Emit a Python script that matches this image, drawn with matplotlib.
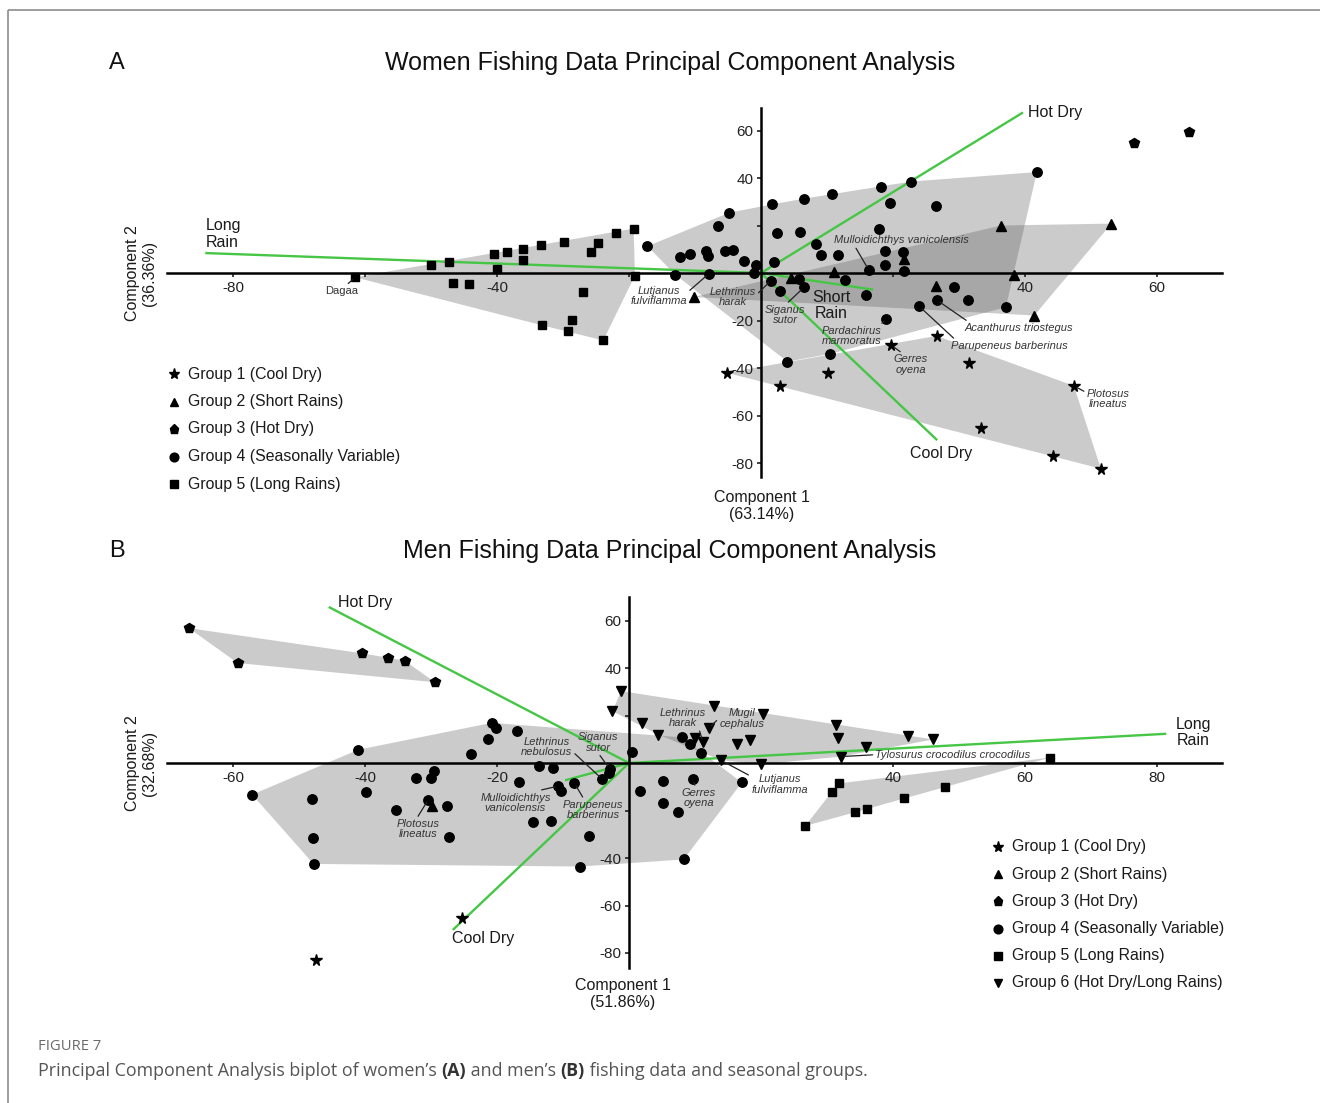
import matplotlib
matplotlib.use("Agg")
import matplotlib.pyplot as plt

plt.rcParams['font.family'] = ['Liberation Sans', 'DejaVu Sans']

W, H = 1320, 1103

# ---------------- Panel A: women ----------------
a_g1 = [(-5.2, -42.0), (2.9, -47.6), (10.2, -42.3), (19.7, -30.3), (26.6, -26.5),
        (31.5, -37.7), (33.3, -65.1), (44.3, -77.2), (47.4, -47.5), (51.5, -82.4)]
a_g2 = [(-10.2, -10.1), (4.6, -2.1), (11.0, 0.3), (21.6, 5.9), (36.4, 20.0),
        (53.1, 20.8), (38.3, -0.7), (26.5, -5.4), (41.4, -17.9)]
a_g3 = [(56.5, 54.9), (64.8, 59.2)]
a_g4 = [(-17.2, 11.3), (-12.2, 6.6), (-10.7, 8.0), (-8.4, 9.3), (-8.0, 7.3), (-5.5, 9.3),
        (-4.3, 9.6), (-6.5, 19.7), (-4.8, 25.4), (-2.6, 4.9), (-0.7, 3.5), (-1.0, 0.0),
        (-13.0, -0.7), (-7.9, -0.3), (1.7, 28.9), (1.9, 4.5), (2.4, 16.9), (1.5, -3.2),
        (2.9, -7.7), (5.8, -2.4), (5.9, 17.3), (6.5, -6.1), (6.5, 31.3), (8.3, 12.3),
        (9.1, 7.5), (10.7, 33.1), (11.7, 7.5), (12.8, -3.1), (15.9, -9.2), (16.3, 1.4),
        (17.9, 18.6), (18.2, 36.3), (18.8, 9.4), (18.8, 3.5), (19.5, 29.3), (21.5, 9.0),
        (21.7, 0.7), (22.7, 38.5), (19.0, -19.3), (24.0, -14.1), (26.7, -11.5), (26.5, 28.2),
        (29.3, -6.1), (31.4, -11.3), (37.1, -14.4), (41.8, 42.5), (4.0, -37.3), (10.4, -34.1)]
a_g5 = [(-61.5, -1.8), (-50.0, 3.5), (-47.3, 4.8), (-46.7, -4.2), (-44.3, -4.5), (-40.5, 8.0),
        (-40.0, 1.7), (-38.5, 9.0), (-36.1, 10.2), (-36.1, 5.6), (-33.4, 11.8), (-29.9, 13.1),
        (-25.8, 9.0), (-24.7, 12.5), (-22.0, 17.0), (-19.3, 18.7), (-19.1, -1.1), (-27.0, -8.0),
        (-33.2, -22.0), (-28.7, -19.6), (-29.3, -24.3), (-23.9, -28.4)]

a_vec_names = ['Long\nRain', 'Hot Dry', 'Cool Dry', 'Short\nRain']
a_vec_end = [(-84.2, 8.4), (39.7, 67.6), (26.7, -70.4), (17.0, -7.0)]
a_vec_lab = [(-84.2, 16.4, 'left'), (40.5, 67.5, 'left'), (27.3, -76.0, 'center'), (10.7, -13.6, 'center')]

a_sp_names = ['Dagaa', 'Lutjanus\nfulviflamma', 'Lethrinus\nharak', 'Siganus\nsutor',
              'Mulloidichthys vanicolensis', 'Pardachirus\nmarmoratus', 'Gerres\noyena',
              'Acanthurus triostegus', 'Parupeneus barberinus', 'Plotosus\nlineatus']
a_sp_pt = [(-61.5, -1.8), (-7.9, -0.3), (1.5, -3.2), (6.5, -6.1), (16.3, 1.4), (19.0, -19.3),
           (19.7, -30.3), (26.7, -11.5), (24.0, -14.1), (47.4, -47.5)]
a_sp_txt = [(-63.5, -7.7), (-15.5, -9.6), (-4.3, -10.1), (3.7, -17.7), (21.3, 13.7), (13.8, -26.6),
            (22.7, -38.6), (39.1, -23.2), (37.6, -30.7), (52.6, -53.0)]
a_sp_rel = [(0.6, 1), (1, 0.65), (0.9, 0.35), (0.5, 1), (0.15, 0), (0.95, 1), (0.3, 1),
            (0.05, 1), (0.05, 1), (0, 0.8)]

# ---------------- Panel B: men ----------------
b_g1 = [(-25.3, -65.3), (-47.4, -82.9)]
b_g2 = [(-29.8, -18.3)]
b_g3 = [(-66.7, 56.8), (-59.3, 42.1), (-40.5, 46.2), (-36.5, 44.3), (-34.0, 43.1), (-29.4, 34.0)]
b_g4 = [(-20.8, 16.9), (-20.1, 14.7), (-21.3, 10.3), (-16.9, 13.6), (-23.9, 3.9), (-41.0, 5.6),
        (-13.7, -1.3), (-11.5, -2.1), (-16.7, -8.0), (-29.5, -3.5), (-30.0, -6.3), (-32.2, -6.3),
        (-39.8, -12.2), (-57.1, -13.3), (-48.1, -15.2), (-30.4, -15.4), (-35.3, -19.6),
        (-27.6, -18.0), (-47.9, -31.5), (-27.3, -31.3), (-47.8, -42.5), (-14.6, -24.8),
        (-11.8, -24.5), (-10.7, -9.7), (-10.3, -11.7), (-8.3, -8.3), (-6.0, -30.8), (-7.4, -43.6),
        (-4.1, -6.7), (-2.9, -2.6), (-3.0, -4.2), (0.5, 4.6), (1.6, -11.7), (8.0, 10.8),
        (9.3, 7.9), (10.9, 4.2), (5.1, -7.7), (5.2, -17.0), (7.5, -20.6), (9.7, -6.8),
        (17.1, -8.2), (8.3, -40.6)]
b_g5 = [(63.8, 2.3), (31.8, -8.6), (30.7, -12.3), (47.9, -10.0), (41.7, -14.8), (36.0, -19.4),
        (34.3, -20.7), (26.7, -26.5)]
b_g6 = [(-1.2, 30.3), (-2.5, 21.8), (2.0, 16.8), (4.4, 12.0), (12.9, 24.0), (20.3, 20.7),
        (12.1, 14.7), (10.0, 10.5), (11.2, 9.0), (16.4, 8.0), (18.4, 9.5), (13.9, 1.2),
        (20.0, -0.6), (31.4, 16.1), (31.7, 10.6), (32.1, 2.7), (35.9, 6.6), (42.2, 11.5), (46.1, 9.9)]

b_vec_names = ['Hot Dry', 'Cool Dry', 'Long\nRain', '']
b_vec_end = [(-45.5, 65.7), (-26.7, -70.3), (81.4, 12.3), (-9.7, -7.3)]
b_vec_lab = [(-44.1, 67.7, 'left'), (-22.1, -74.1, 'center'), (85.5, 13.0, 'center'), (0, 0, 'center')]

b_sp_names = ['Lethrinus\nnebulosus', 'Siganus\nsutor', 'Mulloidichthys\nvanicolensis',
              'Parupeneus\nbarberinus', 'Plotosus\nlineatus', 'Lethrinus\nharak', 'Mugil\ncephalus',
              'Gerres\noyena', 'Lutjanus\nfulviflamma', 'Tylosurus crocodilus crocodilus']
b_sp_pt = [(-4.1, -6.7), (-2.9, -2.6), (-10.7, -9.7), (-8.3, -8.3), (-30.4, -15.4), (11.2, 9.0),
           (12.1, 14.7), (9.7, -6.8), (13.9, 1.2), (32.1, 2.7)]
b_sp_txt = [(-12.5, 6.7), (-4.7, 8.6), (-17.2, -16.8), (-5.4, -19.8), (-31.9, -27.9), (8.1, 18.9),
            (17.1, 18.7), (10.6, -14.8), (22.8, -9.1), (49.1, 3.5)]
b_sp_rel = [(1, 0.3), (0.5, 0), (0.7, 1), (0.35, 1), (0.45, 1), (0.85, 0), (0.1, 0.75),
            (0.4, 1), (0, 0.9), (0, 0.5)]

groups = ['Group 1 (Cool Dry)', 'Group 2 (Short Rains)', 'Group 3 (Hot Dry)',
          'Group 4 (Seasonally Variable)', 'Group 5 (Long Rains)', 'Group 6 (Hot Dry/Long Rains)']
markers = ['*', '^', 'p', 'o', 's', 'v']
msizes = [8.5, 6.8, 7.2, 6.8, 6.3, 6.8]

GREEN = '#45c645'
HULL = '#555555'


def hull(pts):
    pts = sorted(set(pts))
    if len(pts) < 3:
        return []

    def cross(o, a, b):
        return (a[0] - o[0]) * (b[1] - o[1]) - (a[1] - o[1]) * (b[0] - o[0])
    lower, upper = [], []
    for p in pts:
        while len(lower) >= 2 and cross(lower[-2], lower[-1], p) <= 0:
            lower.pop()
        lower.append(p)
    for p in reversed(pts):
        while len(upper) >= 2 and cross(upper[-2], upper[-1], p) <= 0:
            upper.pop()
        upper.append(p)
    return lower[:-1] + upper[:-1]


fig = plt.figure(figsize=(W / 100, H / 100), dpi=100)
fig.patch.set_facecolor('white')

# overlay in pixel coordinates for titles, legends, caption
ov = fig.add_axes([0, 0, 1, 1])
ov.set_xlim(0, W)
ov.set_ylim(H, 0)
ov.axis('off')


def make_axes(ox, oy, left, right, top, bottom, sx=6.6, sy=2.375):
    ax = fig.add_axes([left / W, 1 - bottom / H, (right - left) / W, (bottom - top) / H])
    ax.set_xlim((left - ox) / sx, (right - ox) / sx)
    ax.set_ylim((oy - bottom) / sy, (oy - top) / sy)
    ax.set_facecolor('none')
    for s in ('top', 'right'):
        ax.spines[s].set_visible(False)
    for s in ('left', 'bottom'):
        ax.spines[s].set_position(('data', 0))
        ax.spines[s].set_linewidth(1.8)
    ax.tick_params(direction='out', length=3, width=1.2, labelsize=11, pad=2.5, colors='#222222')
    return ax


def draw_panel(ax, gdata, xticks_shown, yticks_shown, vec_names, vec_end, vec_lab,
               sp_names, sp_pt, sp_txt, sp_rel):
    xt = [v for v in range(-80, 100, 20) if v != 0 and ax.get_xlim()[0] < v < ax.get_xlim()[1]]
    yt = [v for v in range(-80, 80, 20) if v != 0]
    ax.set_xticks(xt)
    ax.set_xticklabels([str(v) if v in xticks_shown else '' for v in xt])
    ax.set_yticks(yt)
    ax.set_yticklabels([str(v) if v in yticks_shown else '' for v in yt])

    for pts in gdata:
        h = hull(pts)
        if h:
            ax.fill([p[0] for p in h], [p[1] for p in h], color=HULL, alpha=0.3, lw=0, zorder=1)

    for (ex, ey), name, (lx, ly, ha) in zip(vec_end, vec_names, vec_lab):
        ax.plot([0, ex], [0, ey], color=GREEN, lw=1.7, zorder=2, solid_capstyle='butt')
        if name:
            ax.text(lx, ly, name, ha=ha, va='center', fontsize=11.5, color='#1a1a1a',
                    linespacing=1.1, zorder=6)

    for i, pts in enumerate(gdata):
        if pts:
            ax.plot([p[0] for p in pts], [p[1] for p in pts], ls='none', marker=markers[i],
                    ms=msizes[i], color='black', mec='black', zorder=5, clip_on=False)

    for name, pt, tx, rel in zip(sp_names, sp_pt, sp_txt, sp_rel):
        style = 'normal' if name == 'Dagaa' else 'italic'
        ax.annotate(name, xy=pt, xytext=tx, ha='center', va='center', fontsize=8,
                    style=style, color='#333333', linespacing=1.05, zorder=6,
                    arrowprops=dict(arrowstyle='-', color='#222222', lw=0.9,
                                    shrinkA=0, shrinkB=2.5, relpos=rel))


axA = make_axes(761, 273, 167, 1222, 108, 477)
draw_panel(axA, [a_g1, a_g2, a_g3, a_g4, a_g5, []], [-80, -40, 40, 60], [60, 40, -20, -40, -60, -80],
           a_vec_names, a_vec_end, a_vec_lab, a_sp_names, a_sp_pt, a_sp_txt, a_sp_rel)

axB = make_axes(629, 763, 167, 1222, 597, 968)
draw_panel(axB, [b_g1, b_g2, b_g3, b_g4, b_g5, b_g6], [-60, -40, -20, 40, 60, 80], [60, 40, -40, -60, -80],
           b_vec_names, b_vec_end, b_vec_lab, b_sp_names, b_sp_pt, b_sp_txt, b_sp_rel)

# titles and axis labels
ov.text(117, 63, 'A', fontsize=17, ha='center', va='center', color='#111111')
ov.text(670, 63, 'Women Fishing Data Principal Component Analysis', fontsize=18,
        ha='center', va='center', color='#111111')
ov.text(117, 551, 'B', fontsize=17, ha='center', va='center', color='#111111')
ov.text(670, 551, 'Men Fishing Data Principal Component Analysis', fontsize=18,
        ha='center', va='center', color='#111111')

ov.text(762, 506, 'Component 1\n(63.14%)', fontsize=11.5, ha='center', va='center',
        linespacing=1.15, color='#1a1a1a')
ov.text(141, 273, 'Component 2\n(36.36%)', fontsize=11.5, ha='center', va='center',
        rotation=90, linespacing=1.15, color='#1a1a1a')
ov.text(623, 994, 'Component 1\n(51.86%)', fontsize=11.5, ha='center', va='center',
        linespacing=1.15, color='#1a1a1a')
ov.text(141, 763, 'Component 2\n(32.68%)', fontsize=11.5, ha='center', va='center',
        rotation=90, linespacing=1.15, color='#1a1a1a')

# legends
for i in range(5):
    y = 374 + i * 27.5
    ov.plot([174], [y], marker=markers[i], ms=msizes[i] - 0.5, color='black', ls='none')
    ov.text(188, y, groups[i], fontsize=11.4, va='center', ha='left', color='#1a1a1a')
for i in range(6):
    y = 847 + i * 27.2
    ov.plot([998], [y], marker=markers[i], ms=msizes[i] - 0.5, color='black', ls='none')
    ov.text(1012, y, groups[i], fontsize=11.4, va='center', ha='left', color='#1a1a1a')

# frame of the figure box
ov.plot([8, W], [10, 10], color='#8c8c8c', lw=1.2, solid_capstyle='butt')
ov.plot([8, 8], [10, H], color='#8c8c8c', lw=1.2, solid_capstyle='butt')

# caption
ov.text(38, 1047, 'FIGURE 7', fontsize=10.6, family=['Open Sans', 'DejaVu Sans'],
        color='#6a6a6a', va='center', ha='left')
cap_parts = [('Principal Component Analysis biplot of women\u2019s ', 'normal', '#555555'),
             ('(A)', 'bold', '#333333'),
             (' and men\u2019s ', 'normal', '#555555'),
             ('(B)', 'bold', '#333333'),
             (' fishing data and seasonal groups.', 'normal', '#555555')]
r = fig.canvas.get_renderer()
x = 38
for txt, wt, col in cap_parts:
    t = ov.text(x, 1071, txt, fontsize=12.9, fontweight=wt, color=col,
                family=['Open Sans', 'DejaVu Sans'], va='center', ha='left')
    x += t.get_window_extent(renderer=r).width

fig.savefig('out.png', dpi=100)
